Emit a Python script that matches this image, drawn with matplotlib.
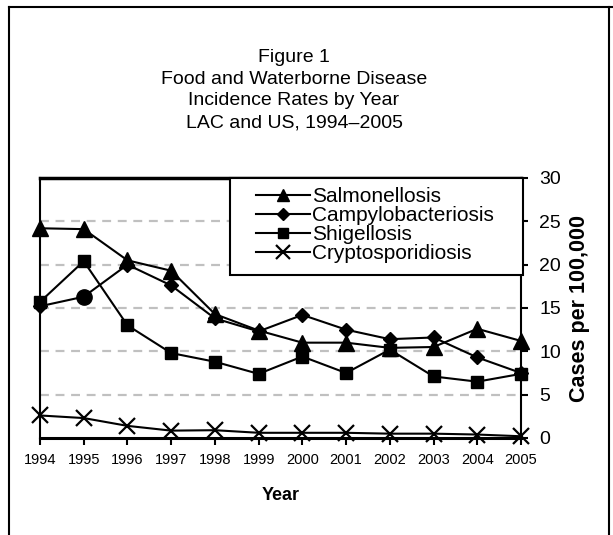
import matplotlib
matplotlib.use("Agg")
import matplotlib.pyplot as plt
from matplotlib.lines import Line2D
from matplotlib.patches import Rectangle

plt.rcParams['font.family'] = ['Liberation Sans', 'DejaVu Sans']

years = [1994, 1995, 1996, 1997, 1998, 1999, 2000, 2001, 2002, 2003, 2004, 2005]
salmonellosis = [24.2, 24.1, 20.5, 19.3, 14.3, 12.4, 11.0, 11.0, 10.4, 10.5, 12.6, 11.2]
campylobacteriosis = [15.2, 16.3, 20.0, 17.6, 13.8, 12.3, 14.2, 12.5, 11.4, 11.6, 9.3, 7.5]
shigellosis = [15.7, 20.4, 13.0, 9.8, 8.8, 7.4, 9.4, 7.5, 10.2, 7.1, 6.5, 7.4]
cryptosporidiosis = [2.6, 2.3, 1.4, 0.85, 0.9, 0.6, 0.6, 0.6, 0.5, 0.5, 0.4, 0.2]
yticks = [0, 5, 10, 15, 20, 25, 30]
labels = ['Salmonellosis', 'Campylobacteriosis', 'Shigellosis', 'Cryptosporidiosis']

W, H = 613, 535
fig = plt.figure(figsize=(W / 100, H / 100), dpi=100)
AX_L, AX_R, AX_T, AX_B = 40, 521, 178, 438
ax = fig.add_axes([AX_L / W, 1 - AX_B / H, (AX_R - AX_L) / W, (AX_B - AX_T) / H])

def ax_x(px):
    return (px - AX_L) / (AX_R - AX_L)

def ax_y(py):
    return (AX_B - py) / (AX_B - AX_T)

lw = 1.5
l1, = ax.plot(years, salmonellosis, color='black', lw=lw, marker='^', ms=11, clip_on=False, zorder=5)
idx_d = [i for i in range(len(years)) if i != 1]
l2, = ax.plot(years, campylobacteriosis, color='black', lw=lw, marker='D', ms=7.5,
              markevery=idx_d, clip_on=False, zorder=5)
ax.plot([years[1]], [campylobacteriosis[1]], color='black', marker='o', ms=11, ls='none',
        clip_on=False, zorder=5)
l3, = ax.plot(years, shigellosis, color='black', lw=lw, marker='s', ms=9, clip_on=False, zorder=5)
l4, = ax.plot(years, cryptosporidiosis, color='black', lw=lw, marker='x', ms=12, mew=1.6,
              clip_on=False, zorder=5)

ax.set_xlim(years[0], years[-1])
ax.set_ylim(0, 30)
ax.set_xticks(years)
ax.set_xticklabels([str(y) for y in years], fontsize=10.5)
ax.set_yticks(yticks)
ax.yaxis.tick_right()
ax.yaxis.set_label_position('right')
ax.set_yticklabels([str(v) for v in yticks], fontsize=14)
ax.tick_params(axis='y', direction='out', length=5, width=1.5, pad=8, right=True, left=False)
ax.tick_params(axis='x', direction='out', length=5, width=1.5, pad=6)
for g in [5, 10, 15, 20, 25]:
    ax.axhline(g, color='#c0c0c0', lw=1.6, ls=(0, (4, 3)), zorder=1)

ax.spines['left'].set_linewidth(1.5)
ax.spines['bottom'].set_linewidth(2.2)
ax.spines['right'].set_linewidth(1.5)
ax.spines['top'].set_linewidth(2.5)

ax.set_xlabel('Year', fontsize=13, fontweight='bold', labelpad=14)
ax.set_ylabel('Cases per 100,000', fontsize=15.5, fontweight='bold', labelpad=6)

# legend frame
frame = Rectangle((ax_x(230), ax_y(275)), ax_x(523) - ax_x(230), ax_y(178) - ax_y(275),
                  transform=ax.transAxes, facecolor='white', edgecolor='black', lw=1.5,
                  zorder=9, clip_on=False)
ax.add_patch(frame)
leg = ax.legend([l1, l2, l3, l4], labels,
                loc='upper left', bbox_to_anchor=(ax_x(256), ax_y(187)), fontsize=15,
                frameon=False, handlelength=2.6, handletextpad=0.1, labelspacing=0.0,
                borderpad=0, borderaxespad=0)
leg.set_zorder(10)
for h in leg.legend_handles:
    h.set_markersize(h.get_markersize() * 0.85)

title = "Figure 1\nFood and Waterborne Disease\nIncidence Rates by Year\nLAC and US, 1994\u20132005"
fig.text(294 / W, 1 - 90 / H, title, ha='center', va='center', fontsize=14, linespacing=1.38)

# outer frame
fig.add_artist(Line2D([9 / W, 9 / W], [0, 1 - 7 / H], color='black', lw=1.5, transform=fig.transFigure))
fig.add_artist(Line2D([9 / W, 1.0], [1 - 7 / H, 1 - 7 / H], color='black', lw=1.5, transform=fig.transFigure))
fig.add_artist(Line2D([609 / W, 609 / W], [0, 1 - 7 / H], color='black', lw=1.5, transform=fig.transFigure))

fig.savefig('out.png', dpi=100)
